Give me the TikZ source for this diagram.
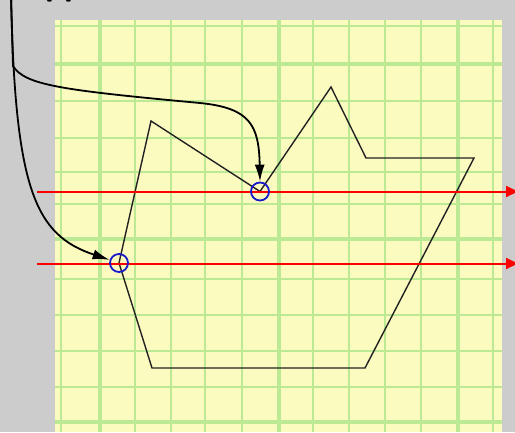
\documentclass[tikz,border=0pt]{standalone}
\usetikzlibrary{arrows.meta}
\definecolor{bggray}{HTML}{CCCCCC}
\definecolor{paper}{HTML}{FBFBC0}
\definecolor{gridgreen}{HTML}{BCEA94}
\definecolor{polyline}{HTML}{222222}
\definecolor{markblue}{HTML}{1A1ACC}
\tikzset{
  gridthin/.style={draw=gridgreen, line width=2.4pt},
  gridthick/.style={draw=gridgreen, line width=4.2pt},
  poly/.style={draw=polyline, line width=1.4pt, line join=miter},
  scanline/.style={draw=red, line width=2pt, -{Triangle[length=12pt,width=11pt,fill=red]}},
  hitmark/.style={circle, draw=markblue, line width=1.8pt, minimum size=18pt, inner sep=0pt},
  conn/.style={draw=black, line width=1.8pt, -{Latex[length=17pt,width=10pt]}},
}
\begin{document}
\begin{tikzpicture}[x=1pt,y=-1pt]
\fill[bggray] (0,0) rectangle (515,432);
\useasboundingbox (0,0) rectangle (515,432);
% paper
\fill[paper] (55,20) rectangle (502,432);
\foreach \x in {61,135,171,205,242,313,349,385,421,493}
  \draw[gridthin] (\x,20) -- (\x,432);
\foreach \y in {25.7,101,137.7,171.7,204,279,315,351,386.7}
  \draw[gridthin] (55,\y) -- (502,\y);
\foreach \x in {100,279,458}
  \draw[gridthick] (\x,20) -- (\x,432);
\foreach \y in {64,239,422}
  \draw[gridthick] (55,\y) -- (502,\y);
% cropped title text
\node[anchor=base west, inner sep=0pt, font=\fontsize{34}{34}\selectfont\bfseries\sffamily] (ttl) at (45,-4.6) {pp};
% polygon
\coordinate (pa) at (152,368);
\coordinate (pb) at (119,263);
\coordinate (pc) at (151,121);
\coordinate (pd) at (260,191.5);
\coordinate (pe) at (331,87);
\coordinate (pf) at (366,158);
\coordinate (pg) at (474,158);
\coordinate (ph) at (365,368);
\draw[poly] (pa) -- (pb) -- (pc) -- (pd) -- (pe) -- (pf) -- (pg) -- (ph) -- cycle;
% scan lines
\coordinate (r1s) at (37,191.5);
\coordinate (r1e) at (518,191.5);
\coordinate (r2s) at (37,263.5);
\coordinate (r2e) at (518,263.5);
\draw[scanline] (r1s) -- (r1e);
\draw[scanline] (r2s) -- (r2e);
% hit markers
\node[hitmark] (c1) at (260,191.5) {};
\node[hitmark] (c2) at (119,263) {};
% pointers
\coordinate (s) at (11,-5);
\draw[conn] (s) -- (13,66) .. controls (25,85) and (60,90) .. (200,103) .. controls (250,108) and (259,125) .. (c1.north);
\draw[conn] (s) .. controls (15,190) and (35,235) .. (c2);
\end{tikzpicture}
\end{document}
